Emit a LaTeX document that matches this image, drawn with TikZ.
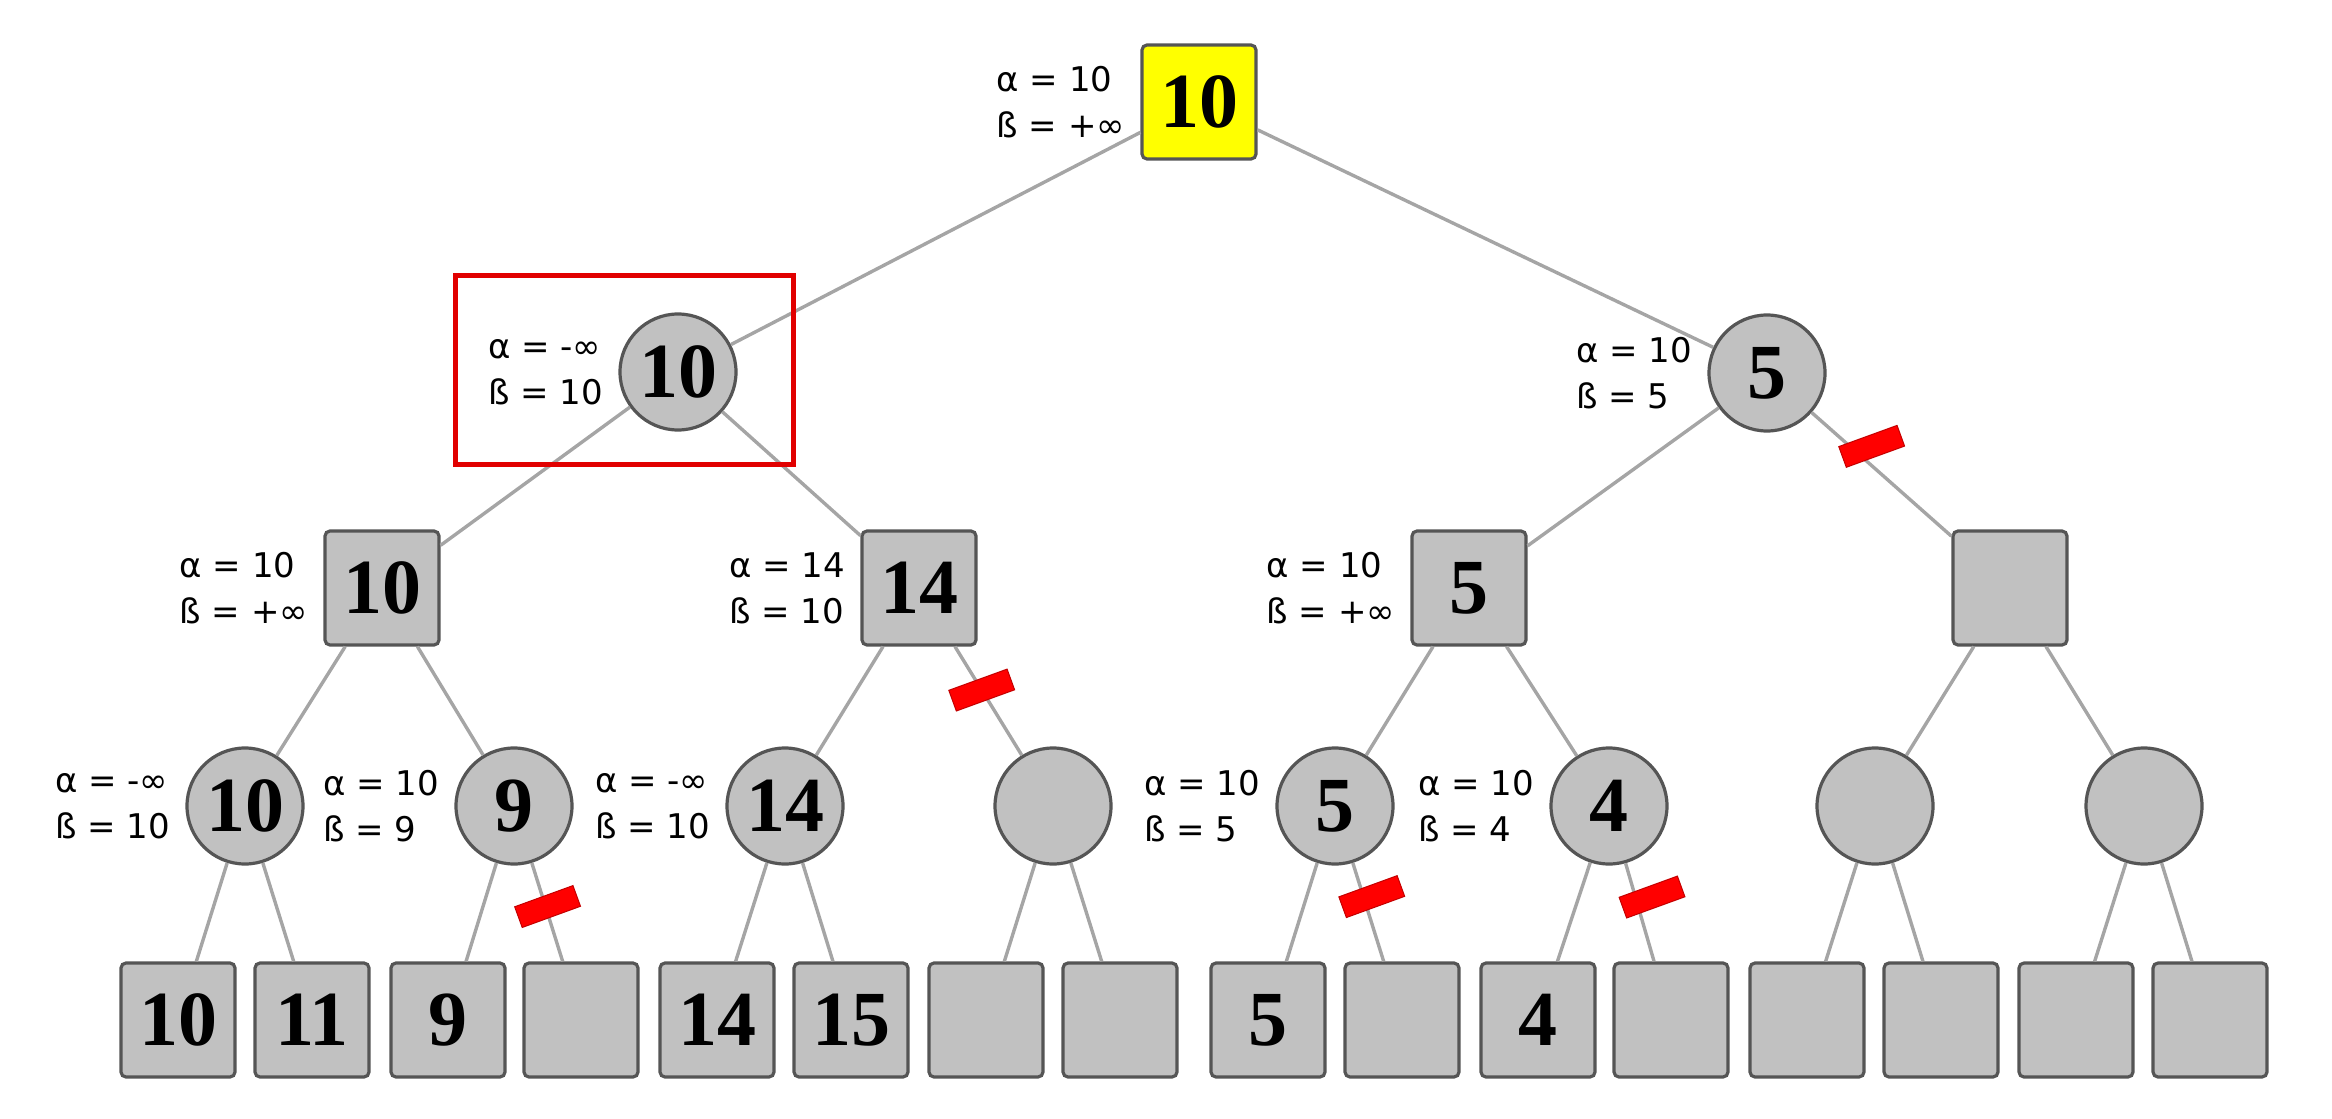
\documentclass[tikz,border=0pt]{standalone}
\usepackage{fontspec}
\setmainfont{Liberation Serif}
\newfontfamily\lblfont{DejaVu Sans}
\newcommand{\valfont}{\fontsize{39}{39}\selectfont\bfseries}

\definecolor{nodegray}{RGB}{193,193,193}
\definecolor{bordergray}{RGB}{85,85,85}
\definecolor{edgegray}{RGB}{165,165,165}
\definecolor{rootyellow}{RGB}{255,255,0}
\definecolor{boxred}{RGB}{225,0,0}
\definecolor{cutred}{RGB}{255,0,0}
\definecolor{cutdark}{RGB}{195,0,0}

\tikzset{
  edge/.style={draw=edgegray, line width=1.7pt},
  maxnode/.style={rectangle, rounded corners=2.5pt, draw=bordergray, fill=nodegray,
    line width=1.6pt, minimum size=57pt, inner sep=0pt, font=\valfont},
  minnode/.style={circle, draw=bordergray, fill=nodegray,
    line width=1.6pt, minimum size=58pt, inner sep=0pt, font=\valfont},
  lbl/.style={font=\lblfont\fontsize{17}{23}\selectfont, align=left,
    inner sep=0pt, label distance=7.5pt},
  ab/.style={label={[lbl]left:{#1}}},
  cut/.style={rectangle, rotate=20, fill=cutred, draw=cutdark, line width=0.5pt,
    minimum width=31pt, minimum height=11pt, inner sep=0pt},
  highlight/.style={draw=boxred, line width=2.5pt}
}

\begin{document}
\begin{tikzpicture}[x=0.5pt, y=-0.5pt]
\useasboundingbox (0,0) rectangle (2332,1118);

% root (MAX)
\node[maxnode, fill=rootyellow, ab={α = 10\\ß = +∞}] (root) at (1199,102) {10};

% level 1 (MIN)
\node[minnode, ab={α = -∞\\ß = 10}] (a) at (678,372) {10};
\node[minnode, ab={α = 10\\ß = 5}]  (b) at (1767,373) {5};

% level 2 (MAX)
\node[maxnode, ab={α = 10\\ß = +∞}] (a1) at (382,588)  {10};
\node[maxnode, ab={α = 14\\ß = 10}] (a2) at (919,588)  {14};
\node[maxnode, ab={α = 10\\ß = +∞}] (b1) at (1469,588) {5};
\node[maxnode]                      (b2) at (2010,588) {};

% level 3 (MIN)
\node[minnode, ab={α = -∞\\ß = 10}] (a11) at (245,806)  {10};
\node[minnode, ab={α = 10\\ß = 9}]  (a12) at (514,806)  {9};
\node[minnode, ab={α = -∞\\ß = 10}] (a21) at (785,806)  {14};
\node[minnode]                      (a22) at (1053,806) {};
\node[minnode, ab={α = 10\\ß = 5}]  (b11) at (1335,806) {5};
\node[minnode, ab={α = 10\\ß = 4}]  (b12) at (1609,806) {4};
\node[minnode]                      (b21) at (1875,806) {};
\node[minnode]                      (b22) at (2144,806) {};

% leaves
\node[maxnode] (l1)  at (178,1020)  {10};
\node[maxnode] (l2)  at (312,1020)  {11};
\node[maxnode] (l3)  at (448,1020)  {9};
\node[maxnode] (l4)  at (581,1020)  {};
\node[maxnode] (l5)  at (717,1020)  {14};
\node[maxnode] (l6)  at (851,1020)  {15};
\node[maxnode] (l7)  at (986,1020)  {};
\node[maxnode] (l8)  at (1120,1020) {};
\node[maxnode] (l9)  at (1268,1020) {5};
\node[maxnode] (l10) at (1402,1020) {};
\node[maxnode] (l11) at (1538,1020) {4};
\node[maxnode] (l12) at (1671,1020) {};
\node[maxnode] (l13) at (1807,1020) {};
\node[maxnode] (l14) at (1941,1020) {};
\node[maxnode] (l15) at (2076,1020) {};
\node[maxnode] (l16) at (2210,1020) {};

% tree edges, with the pruned branches marked
\draw[edge] (root) -- (a);
\draw[edge] (root) -- (b);
\draw[edge] (a) -- (a1);
\draw[edge] (a) -- (a2);
\draw[edge] (b) -- (b1);
\draw[edge] (b) -- node[cut, pos=0.38, xshift=5.5pt, yshift=5pt] {} (b2);
\draw[edge] (a1) -- (a11);
\draw[edge] (a1) -- (a12);
\draw[edge] (a2) -- (a21);
\draw[edge] (a2) -- node[cut, pos=0.4] {} (a22);
\draw[edge] (b1) -- (b11);
\draw[edge] (b1) -- (b12);
\draw[edge] (b2) -- (b21);
\draw[edge] (b2) -- (b22);
\draw[edge] (a11) -- (l1);
\draw[edge] (a11) -- (l2);
\draw[edge] (a12) -- (l3);
\draw[edge] (a12) -- node[cut, pos=0.45, xshift=1pt] {} (l4);
\draw[edge] (a21) -- (l5);
\draw[edge] (a21) -- (l6);
\draw[edge] (a22) -- (l7);
\draw[edge] (a22) -- (l8);
\draw[edge] (b11) -- (l9);
\draw[edge] (b11) -- node[cut, pos=0.37, xshift=4pt] {} (l10);
\draw[edge] (b12) -- (l11);
\draw[edge] (b12) -- node[cut, pos=0.4, xshift=8pt] {} (l12);
\draw[edge] (b21) -- (l13);
\draw[edge] (b21) -- (l14);
\draw[edge] (b22) -- (l15);
\draw[edge] (b22) -- (l16);

% frame around the first MIN node
\draw[highlight] (455,275) rectangle (793,464);
\end{tikzpicture}
\end{document}
